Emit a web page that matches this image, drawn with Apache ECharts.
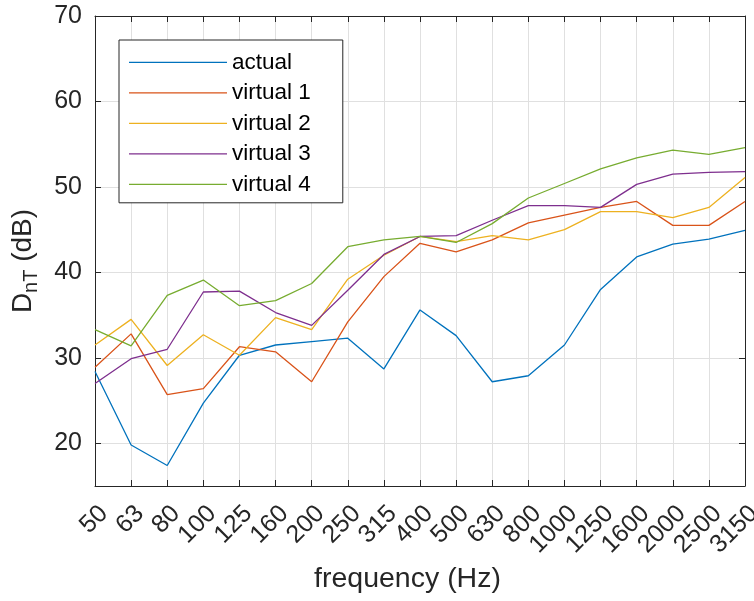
<!DOCTYPE html>
<html>
<head>
<meta charset="utf-8">
<script src="https://cdn.jsdelivr.net/npm/echarts@6/dist/echarts.min.js"></script>
<style>
html,body{margin:0;padding:0;background:#fff;}
#chart{width:754px;height:601px;}
</style>
</head>
<body>
<div id="chart"></div>
<script>
var categories = ['50','63','80','100','125','160','200','250','315','400','500','630','800','1000','1250','1600','2000','2500','3150'];
var actual   = [28.4, 19.8, 17.4, 24.7, 30.3, 31.5, 31.9, 32.3, 28.7, 35.6, 32.6, 27.2, 27.9, 31.5, 38.0, 41.8, 43.3, 43.9, 44.9];
var virtual1 = [28.9, 32.8, 25.7, 26.4, 31.3, 30.7, 27.2, 34.2, 39.5, 43.4, 42.4, 43.8, 45.8, 46.7, 47.6, 48.3, 45.5, 45.5, 48.3];
var virtual2 = [31.5, 34.5, 29.1, 32.7, 30.3, 34.7, 33.3, 39.2, 42.0, 44.2, 43.6, 44.3, 43.8, 45.0, 47.1, 47.1, 46.4, 47.6, 51.1];
var virtual3 = [27.0, 29.9, 31.0, 37.7, 37.8, 35.3, 33.8, 37.9, 42.1, 44.2, 44.3, 46.1, 47.8, 47.8, 47.6, 50.3, 51.5, 51.7, 51.8];
var virtual4 = [33.3, 31.4, 37.3, 39.1, 36.1, 36.7, 38.7, 43.0, 43.8, 44.2, 43.5, 45.7, 48.7, 50.4, 52.1, 53.4, 54.3, 53.8, 54.6];
var seriesNames = ['actual', 'virtual 1', 'virtual 2', 'virtual 3', 'virtual 4'];
var yTicks = [20, 30, 40, 50, 60, 70];

var colors = ['#0072BD', '#D95319', '#EDB120', '#7E2F8E', '#77AC30'];
var FONT = "'Liberation Sans', Arial, Helvetica, sans-serif";
var AXC = '#262626';
var GRIDC = '#e0e0e0';

var allData = [actual, virtual1, virtual2, virtual3, virtual4];

var chart = echarts.init(document.getElementById('chart'), null, {renderer: 'canvas'});
var option = {
  animation: false,
  backgroundColor: '#ffffff',
  color: colors,
  textStyle: {fontFamily: FONT},
  grid: {left: 95, right: 9, top: 16, bottom: 115, containLabel: false, outerBoundsMode: 'none'},
  legend: {
    orient: 'vertical',
    left: 119,
    top: 40,
    data: seriesNames,
    icon: 'path://M0,0M0,6.35H98V7.65H0ZM98,14',
    itemWidth: 98,
    itemHeight: 14,
    itemGap: 7.5,
    itemTextGap: 7,
    padding: [10.8, 32, 7, 10],
    borderColor: AXC,
    borderWidth: 1,
    backgroundColor: '#ffffff',
    textStyle: {fontSize: 22.5, color: '#000', fontFamily: FONT}
  },
  xAxis: [{
    type: 'category',
    data: categories,
    boundaryGap: false,
    name: 'frequency (Hz)',
    nameLocation: 'middle',
    nameGap: 78,
    nameTextStyle: {fontSize: 28.5, color: AXC, fontFamily: FONT, padding: [0, 25, 0, 0]},
    axisLine: {show: true, onZero: false, lineStyle: {color: AXC, width: 1}},
    axisTick: {show: true, inside: true, length: 6, interval: 0, lineStyle: {color: AXC}},
    axisLabel: {show: true, interval: 0, rotate: 45, align: 'right', verticalAlign: 'top', margin: 15, fontSize: 25, color: AXC, fontFamily: FONT, hideOverlap: false},
    splitLine: {show: true, interval: 0, lineStyle: {color: GRIDC, width: 1}}
  }, {
    type: 'category',
    data: categories,
    boundaryGap: false,
    position: 'top',
    axisLine: {show: true, onZero: false, lineStyle: {color: AXC, width: 1}},
    axisTick: {show: true, inside: true, length: 6, interval: 0, lineStyle: {color: AXC}},
    axisLabel: {show: false},
    splitLine: {show: false}
  }],
  yAxis: [{
    type: 'value',
    min: 15,
    max: 70,
    name: 'D{sub|nT} (dB)',
    nameLocation: 'middle',
    nameGap: 54,
    nameTextStyle: {fontSize: 28, color: AXC, fontFamily: FONT, padding: [0, 20, 0, 0],
      rich: {sub: {fontSize: 20, color: AXC, fontFamily: FONT, padding: [16, 0, 0, 0]}}},
    axisLine: {show: true, onZero: false, lineStyle: {color: AXC, width: 1}},
    axisTick: {show: true, inside: true, length: 6, customValues: yTicks, lineStyle: {color: AXC}},
    axisLabel: {show: true, customValues: yTicks, margin: 13, fontSize: 25, color: AXC, fontFamily: FONT},
    splitLine: {show: true, lineStyle: {color: GRIDC, width: 1}}
  }, {
    type: 'value',
    min: 15,
    max: 70,
    position: 'right',
    axisLine: {show: true, onZero: false, lineStyle: {color: AXC, width: 1}},
    axisTick: {show: true, inside: true, length: 6, customValues: yTicks, lineStyle: {color: AXC}},
    axisLabel: {show: false},
    splitLine: {show: false}
  }],
  series: seriesNames.map(function (n, i) {
    return {
      name: n,
      type: 'line',
      data: allData[i],
      xAxisIndex: 0,
      yAxisIndex: 0,
      symbol: 'none',
      showSymbol: false,
      lineStyle: {width: 1.3, color: colors[i]},
      itemStyle: {color: colors[i]},
      z: 2 + i
    };
  })
};
chart.setOption(option);
</script>
</body>
</html>
